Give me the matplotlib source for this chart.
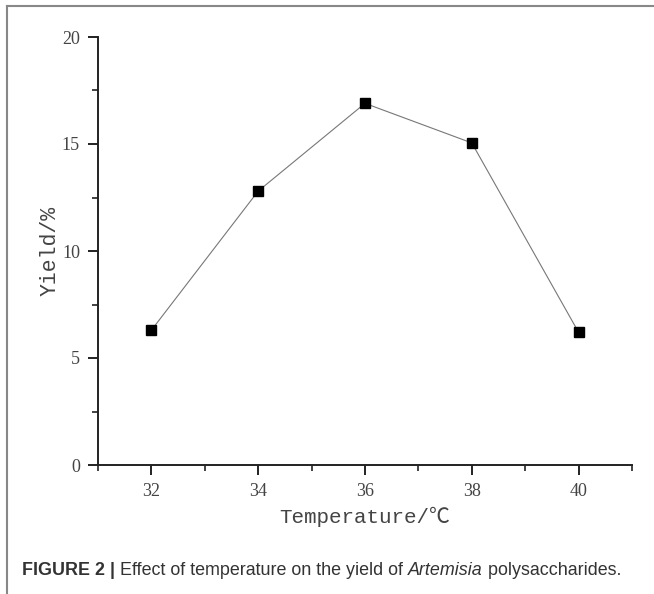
import matplotlib.pyplot as plt
from matplotlib.lines import Line2D
from matplotlib.ticker import MultipleLocator

temperature = [32, 34, 36, 38, 40]
yield_pct = [6.3, 12.8, 16.9, 15.05, 6.2]
x_ticks = [32, 34, 36, 38, 40]
y_ticks = [0, 5, 10, 15, 20]

W, H = 654, 594
fig = plt.figure(figsize=(W / 100, H / 100), dpi=100)
ax = fig.add_axes([98 / W, 1 - 465 / H, (632 - 98) / W, (465 - 37) / H])

ax.plot(temperature, yield_pct, color='#777777', lw=0.8, marker='s',
        markersize=7.5, markerfacecolor='black', markeredgecolor='black')

ax.set_xlim(31, 41)
ax.set_ylim(0, 20)
ax.set_xticks(x_ticks)
ax.set_yticks(y_ticks)
ax.xaxis.set_minor_locator(MultipleLocator(1))
ax.yaxis.set_minor_locator(MultipleLocator(2.5))
for s in ['top', 'right']:
    ax.spines[s].set_visible(False)
for s in ['left', 'bottom']:
    ax.spines[s].set_linewidth(1.4)
    ax.spines[s].set_color('#222222')
ax.tick_params(which='major', length=7, width=1.4, color='#222222',
               labelsize=13, labelcolor='#444444', pad=6)
ax.tick_params(which='minor', length=4, width=1.2, color='#222222')
for lab in ax.get_xticklabels() + ax.get_yticklabels():
    lab.set_family('Liberation Serif')

mono = ['Liberation Mono', 'Noto Sans CJK SC', 'DejaVu Sans']
ax.set_xlabel('Temperature/℃', family=mono, fontsize=15, color='#444444', labelpad=5)
ax.set_ylabel('Yield/%', family=mono, fontsize=15.5, color='#444444', labelpad=1)

# outer frame of the figure panel
fig.add_artist(Line2D([7 / W, 7 / W], [0, 1 - 6 / H], transform=fig.transFigure,
                      color='#888888', lw=1.5))
fig.add_artist(Line2D([7 / W, 1], [1 - 6 / H, 1 - 6 / H], transform=fig.transFigure,
                      color='#888888', lw=1.5))

# caption, built from pieces
pieces = [('FIGURE 2 |', 'bold', 'normal'),
          (' Effect of temperature on the yield of ', 'normal', 'normal'),
          ('Artemisia', 'normal', 'italic'),
          (' polysaccharides.', 'normal', 'normal')]
fig.canvas.draw()
r = fig.canvas.get_renderer()
x = 22
for txt, wt, st in pieces:
    t = fig.text(x / W, 1 - 575 / H, txt, fontsize=12.9, weight=wt, style=st,
                 family='Liberation Sans', color='#333333', va='baseline')
    x = t.get_window_extent(r).x1

plt.savefig('out.png', dpi=100)
